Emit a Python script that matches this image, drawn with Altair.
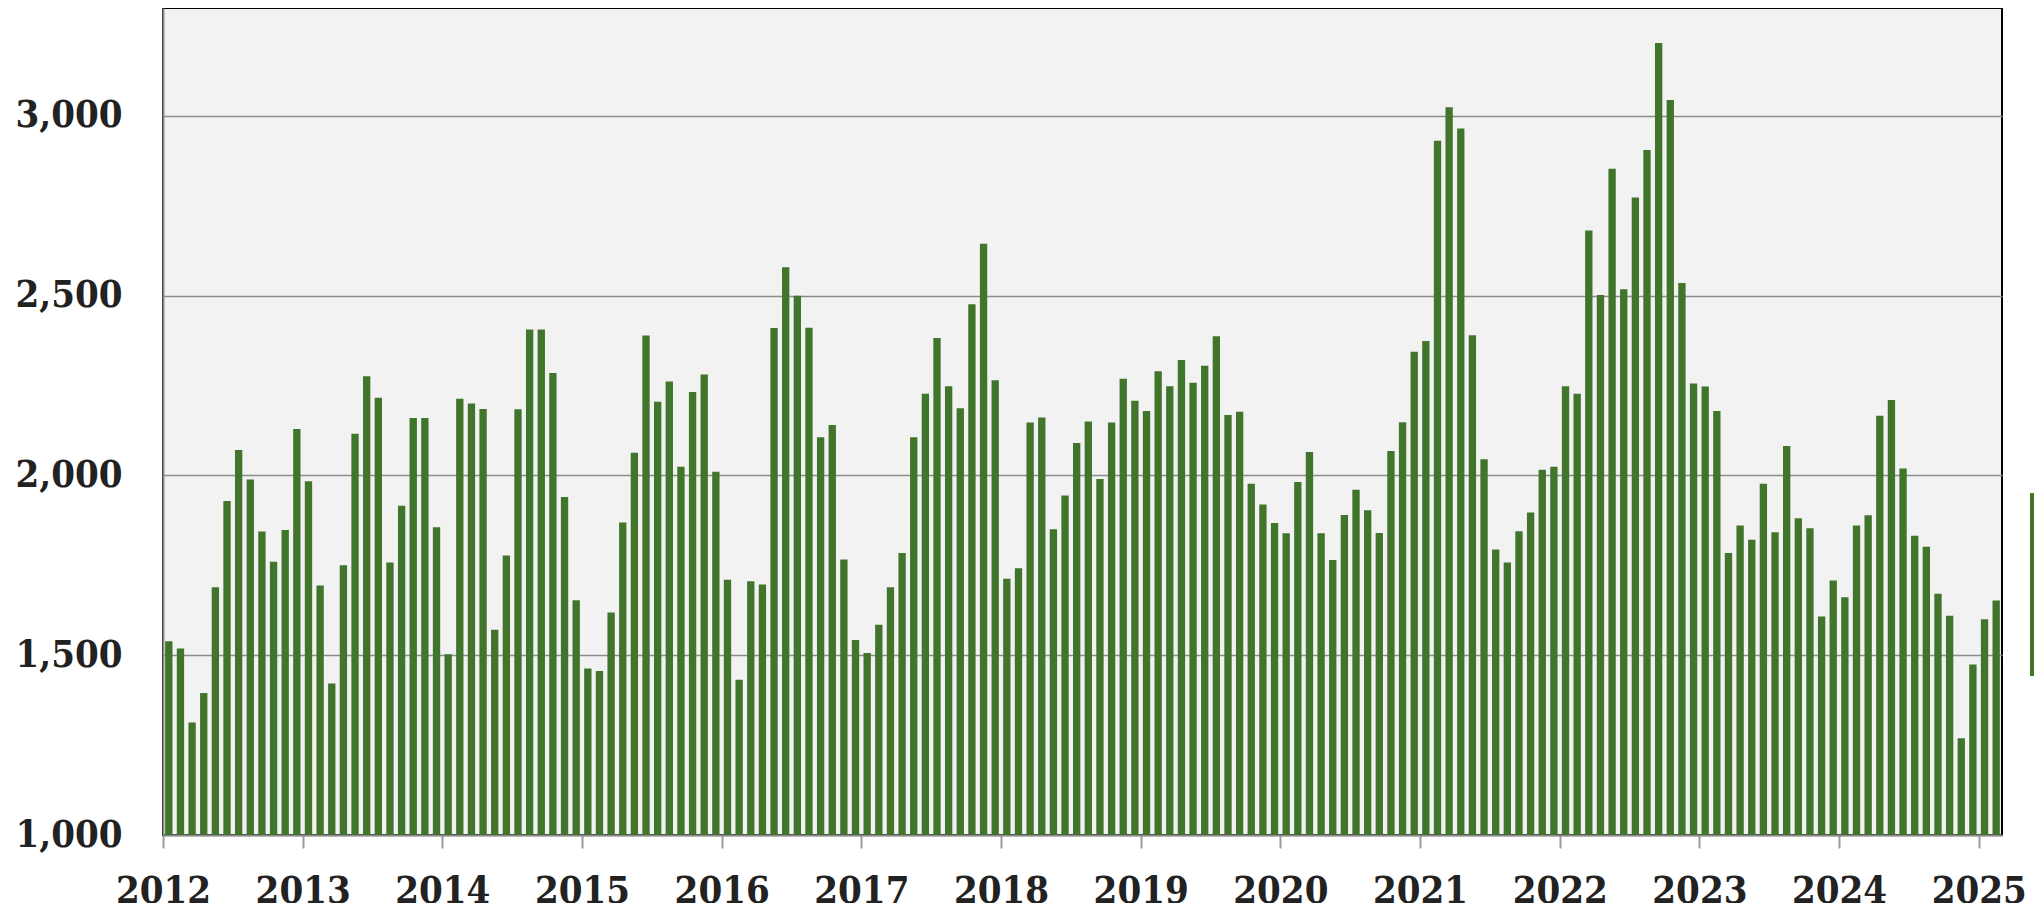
import altair as alt
import pandas as pd

# ---- data ----
first_year = 2012
year_labels = [str(y) for y in range(2012, 2026)]
series_name = ["Monthly total"]

v2012 = [1539, 1519, 1313, 1395, 1689, 1929, 2071, 1989, 1844, 1760, 1848, 2129]
v2013 = [1984, 1694, 1421, 1750, 2116, 2276, 2216, 1758, 1916, 2160, 2160, 1856]
v2014 = [1503, 2213, 2200, 2185, 1571, 1777, 2184, 2406, 2406, 2285, 1940, 1653]
v2015 = [1463, 1456, 1619, 1869, 2063, 2389, 2205, 2261, 2024, 2232, 2281, 2010]
v2016 = [1710, 1432, 1706, 1697, 2410, 2579, 2500, 2411, 2106, 2140, 1766, 1542]
v2017 = [1506, 1585, 1689, 1784, 2106, 2227, 2382, 2248, 2187, 2476, 2644, 2265]
v2018 = [1713, 1742, 2147, 2161, 1850, 1944, 2090, 2150, 1990, 2147, 2269, 2208]
v2019 = [2179, 2290, 2248, 2321, 2258, 2305, 2387, 2168, 2177, 1977, 1919, 1868]
v2020 = [1839, 1982, 2065, 1839, 1765, 1890, 1960, 1903, 1840, 2068, 2148, 2344]
v2021 = [2374, 2931, 3024, 2965, 2390, 2045, 1794, 1758, 1845, 1897, 2016, 2024]
v2022 = [2248, 2227, 2681, 2502, 2853, 2518, 2773, 2905, 3203, 3044, 2535, 2256]
v2023 = [2247, 2179, 1784, 1861, 1821, 1977, 1842, 2082, 1881, 1853, 1608, 1708]
v2024 = [1661, 1861, 1889, 2166, 2210, 2019, 1832, 1802, 1671, 1610, 1269, 1474]
v2025 = [1600, 1652]

values = (v2012 + v2013 + v2014 + v2015 + v2016 + v2017 + v2018 + v2019
          + v2020 + v2021 + v2022 + v2023 + v2024 + v2025)

y_ticks = [1000, 1500, 2000, 2500, 3000]

months = pd.date_range(f"{first_year}-01-01", periods=len(values), freq="MS")
df = pd.DataFrame({
    "month": months.strftime("%Y-%m"),
    "idx": list(range(len(values))),
    "value": values,
    "series": series_name[0],
})

n = len(values)
label_array = "[" + ",".join(f"'{s}'" for s in year_labels) + "]"
font = "DejaVu Serif Condensed, DejaVu Serif"
green = "#41752c"

bars = alt.Chart(df).transform_calculate(
    x0="datum.idx + 0.185",
    x1="datum.idx + 0.815",
).mark_bar(color=green).encode(
    x=alt.X(
        "x0:Q",
        scale=alt.Scale(domain=[0, n], nice=False, zero=False),
        axis=alt.Axis(
            values=list(range(0, 12 * len(year_labels), 12)),
            labelExpr=f"{label_array}[round(datum.value / 12)]",
            title=None,
            grid=False,
            ticks=True,
            tickSize=13,
            tickWidth=2,
            tickColor="#9a9a9a",
            labelPadding=24,
            labelAlign="center",
            labelBaseline="top",
        ),
    ),
    x2="x1:Q",
    y=alt.Y(
        "value:Q",
        scale=alt.Scale(domain=[1000, 3300], nice=False, zero=False),
        axis=alt.Axis(
            values=y_ticks,
            format=",.0f",
            title=None,
            grid=True,
            ticks=False,
            tickSize=0,
            labelPadding=41,
        ),
    ),
    y2=alt.datum(1000),
    color=alt.Color(
        "series:N",
        scale=alt.Scale(range=[green]),
        legend=alt.Legend(
            orient="none",
            legendX=1867,
            legendY=485,
            title=None,
            symbolType="square",
            symbolSize=183 * 183,
            symbolStrokeWidth=0,
            padding=0,
            labelFontSize=20,
        ),
    ),
)

chart = bars.properties(
    width=1839,
    height=827,
    autosize=alt.AutoSizeParams(type="none"),
    padding={"left": 155, "top": 0, "right": 32, "bottom": 68},
    background="white",
).configure_view(
    fill="#f2f2f2",
    stroke="black",
    strokeWidth=2,
).configure_axis(
    domainColor="#8a8a8a",
    domainWidth=2,
    gridColor="#8c8c8c",
    gridWidth=1.5,
    labelFont=font,
    labelFontWeight="bold",
    labelFontSize=38,
    labelColor="#222222",
)

chart.save("out.html", embed_options={"renderer": "svg", "actions": False})
